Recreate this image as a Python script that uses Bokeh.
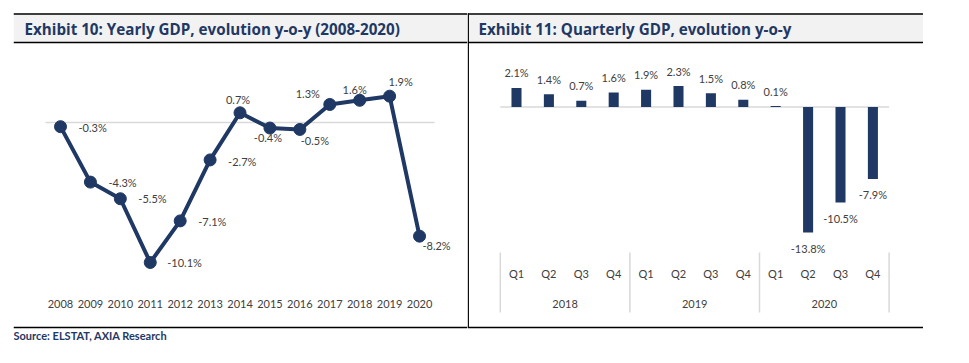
from bokeh.plotting import figure
from bokeh.models import Range1d, ColumnDataSource, LinearAxis, FixedTicker, BoxAnnotation, Label
from bokeh.layouts import row
from bokeh.embed import file_html
from bokeh.resources import INLINE
from bokeh.core.properties import value

# ---------------- data ----------------
years = [2008, 2009, 2010, 2011, 2012, 2013, 2014, 2015, 2016, 2017, 2018, 2019, 2020]
yearly_gdp = [-0.3, -4.3, -5.5, -10.1, -7.1, -2.7, 0.7, -0.4, -0.5, 1.3, 1.6, 1.9, -8.2]
q_years = ["2018", "2019", "2020"]
q_names = ["Q1", "Q2", "Q3", "Q4"]
quarterly_gdp = [2.1, 1.4, 0.7, 1.6, 1.9, 2.3, 1.5, 0.8, 0.1, -13.8, -10.5, -7.9]

title_left = "Exhibit 10: Yearly GDP, evolution y-o-y (2008-2020)"
title_right = "Exhibit 11: Quarterly GDP, evolution y-o-y"
source_text = "Source: ELSTAT, AXIA Research"

# ---------------- style ----------------
NAVY = "#1f3864"
TXT = "#404040"
ZERO = "#d9d9d9"
BAND = "#f2f2f2"
FONT = "Lato"
TFONT = "Open Sans"
TSIZE = "15.2px"
H = 345
OFF = 0  # page offset of the figures' top/left

# label placement for the yearly chart (pixel offsets)
lbl_align = ["left"] * 6 + ["center"] * 7
lbl_dx = [18, 18, 18, 17, 18, 18, -2, -2, 15, -22, -5, 11, 17]
lbl_dy = [1, 0, 0, 0, 1, 2, -13, 9, 11, -11, -11, -15, 9]

# ---------------- left panel geometry (page px) ----------------
L_FRAME_X0, L_FRAME_X1 = 13, 467
L_BORDER = L_FRAME_X0 - OFF
L_W = L_FRAME_X1 - OFF
L_FRAME_W = L_FRAME_X1 - L_FRAME_X0
L_PPX, L_X0PX = 29.92, 60.0      # px per year, page x of first year
L_PPY, L_ZERO = 13.86, 122.0     # px per %, page y of zero
lx_start = years[0] - (L_X0PX - L_FRAME_X0) / L_PPX
lx_end = lx_start + L_FRAME_W / L_PPX
ly_end = (L_ZERO - OFF) / L_PPY
ly_start = ly_end - H / L_PPY

def lx(px):
    return lx_start + (px - L_FRAME_X0) / L_PPX

def ly(py):
    return ly_end - (py - OFF) / L_PPY

# ---------------- right panel geometry (page px) ----------------
R_FRAME_X0, R_W = L_FRAME_X1, 456
R_PPX, R_X0PX = 32.4, 516.0
R_PPY, R_ZERO = 9.1, 106.5
rx_start = -(R_X0PX - R_FRAME_X0) / R_PPX
rx_end = rx_start + R_W / R_PPX
ry_end = (R_ZERO - OFF) / R_PPY
ry_start = ry_end - H / R_PPY

def rx(px):
    return rx_start + (px - R_FRAME_X0) / R_PPX

def ry(py):
    return ry_end - (py - OFF) / R_PPY


def base_fig(width, xr, yr, border_left=0):
    p = figure(width=width, height=H, x_range=xr, y_range=yr,
               x_axis_location=None, y_axis_location=None,
               toolbar_location=None, output_backend="svg",
               min_border=0, min_border_left=border_left)
    p.grid.visible = False
    p.outline_line_color = None
    p.background_fill_color = "white"
    p.border_fill_color = "white"
    return p


def flat_axis(ticks, loc, overrides=None):
    kw = dict(ticker=FixedTicker(ticks=ticks), fixed_location=loc,
              axis_line_color=None, major_tick_line_color=None,
              minor_tick_line_color=None, major_tick_out=0, major_label_standoff=0,
              major_label_text_font=FONT, major_label_text_font_size="11px",
              major_label_text_color=TXT)
    if overrides:
        kw["major_label_overrides"] = overrides
    return LinearAxis(**kw)


# ================= left: yearly line =================
pl = base_fig(L_W, Range1d(lx_start, lx_end), Range1d(ly_start, ly_end), L_BORDER)
pl.add_layout(BoxAnnotation(left=lx_start, right=lx_end, top=ly(13), bottom=ly(42),
                            fill_color=BAND, fill_alpha=1, line_color=None, level="underlay"))
pl.segment(x0=[lx_start] * 3, x1=[lx_end] * 3, y0=[ly(13.5), ly(42), ly(327)],
           y1=[ly(13.5), ly(42), ly(327)], line_color="black", line_width=1.3)
pl.add_layout(Label(x=lx(24), y=ly(28), text=title_left, text_font=TFONT,
                    text_font_style="bold", text_font_size=TSIZE, text_color=NAVY,
                    text_baseline="middle"))
pl.add_layout(Label(x=lx(13), y=ly(335), text=source_text, text_font=FONT,
                    text_font_style="bold", text_font_size="11px", text_color=NAVY,
                    text_baseline="middle"))

pl.segment(x0=[years[0] - 0.5], x1=[years[-1] + 0.5], y0=[0], y1=[0],
           line_color=ZERO, line_width=1.6)
pl.line(years, yearly_gdp, line_color=NAVY, line_width=4)
pl.scatter(years, yearly_gdp, size=12, fill_color=NAVY, line_color=NAVY)

lab = dict(x=years, y=yearly_gdp, t=[f"{v:.1f}%" for v in yearly_gdp],
           dx=lbl_dx, dy=lbl_dy)
for al in ("left", "center"):
    idx = [i for i, a in enumerate(lbl_align) if a == al]
    src = ColumnDataSource({k: [lab[k][i] for i in idx] for k in lab})
    pl.text(x="x", y="y", text="t", x_offset="dx", y_offset="dy", source=src,
            text_align=al, text_baseline="middle", text_font=value(FONT),
            text_font_size="11px", text_color=TXT)

pl.add_layout(flat_axis(years, ly(299)), "below")

# ================= right: quarterly bars =================
pr = base_fig(R_W, Range1d(rx_start, rx_end), Range1d(ry_start, ry_end))
pr.add_layout(BoxAnnotation(left=rx_start, right=rx_end, top=ry(13), bottom=ry(42),
                            fill_color=BAND, fill_alpha=1, line_color=None, level="underlay"))
pr.segment(x0=[rx_start] * 3, x1=[rx_end] * 3, y0=[ry(13.5), ry(42), ry(327)],
           y1=[ry(13.5), ry(42), ry(327)], line_color="black", line_width=1.3)
pr.segment(x0=[rx(467.8)], x1=[rx(467.8)], y0=[ry(13)], y1=[ry(327)],
           line_color="black", line_width=1.3)
pr.add_layout(Label(x=rx(478), y=ry(28), text=title_right, text_font=TFONT,
                    text_font_style="bold", text_font_size=TSIZE, text_color=NAVY,
                    text_baseline="middle"))

n_q = len(quarterly_gdp)
qx = list(range(n_q))
nq = len(q_names)
pr.segment(x0=[-0.5], x1=[n_q - 0.5], y0=[0], y1=[0], line_color=ZERO, line_width=1.6)
seps = [g * nq - 0.5 for g in range(len(q_years) + 1)]
pr.segment(x0=seps, x1=seps, y0=[ry(252)] * len(seps), y1=[ry(312)] * len(seps),
           line_color=ZERO, line_width=1.5)
pr.vbar(x=qx, top=quarterly_gdp, bottom=0, width=0.31, fill_color=NAVY, line_color=None)
qsrc = ColumnDataSource(dict(x=qx, y=quarterly_gdp,
                             t=[f"{v:.1f}%" for v in quarterly_gdp],
                             dy=[-15 if v >= 0 else 16 for v in quarterly_gdp]))
pr.text(x="x", y="y", text="t", y_offset="dy", source=qsrc, text_align="center",
        text_baseline="middle", text_font=value(FONT), text_font_size="11px",
        text_color=TXT)

q_labels = [q for _ in q_years for q in q_names]
pr.add_layout(flat_axis(qx, ry(266), {i: q_labels[i] for i in qx}), "below")
centers = [g * nq + (nq - 1) / 2 for g in range(len(q_years))]
pr.add_layout(flat_axis(centers, ry(299), {c: y for c, y in zip(centers, q_years)}), "below")

layout = row(pl, pr)
open("out.html", "w").write(file_html(layout, INLINE))
